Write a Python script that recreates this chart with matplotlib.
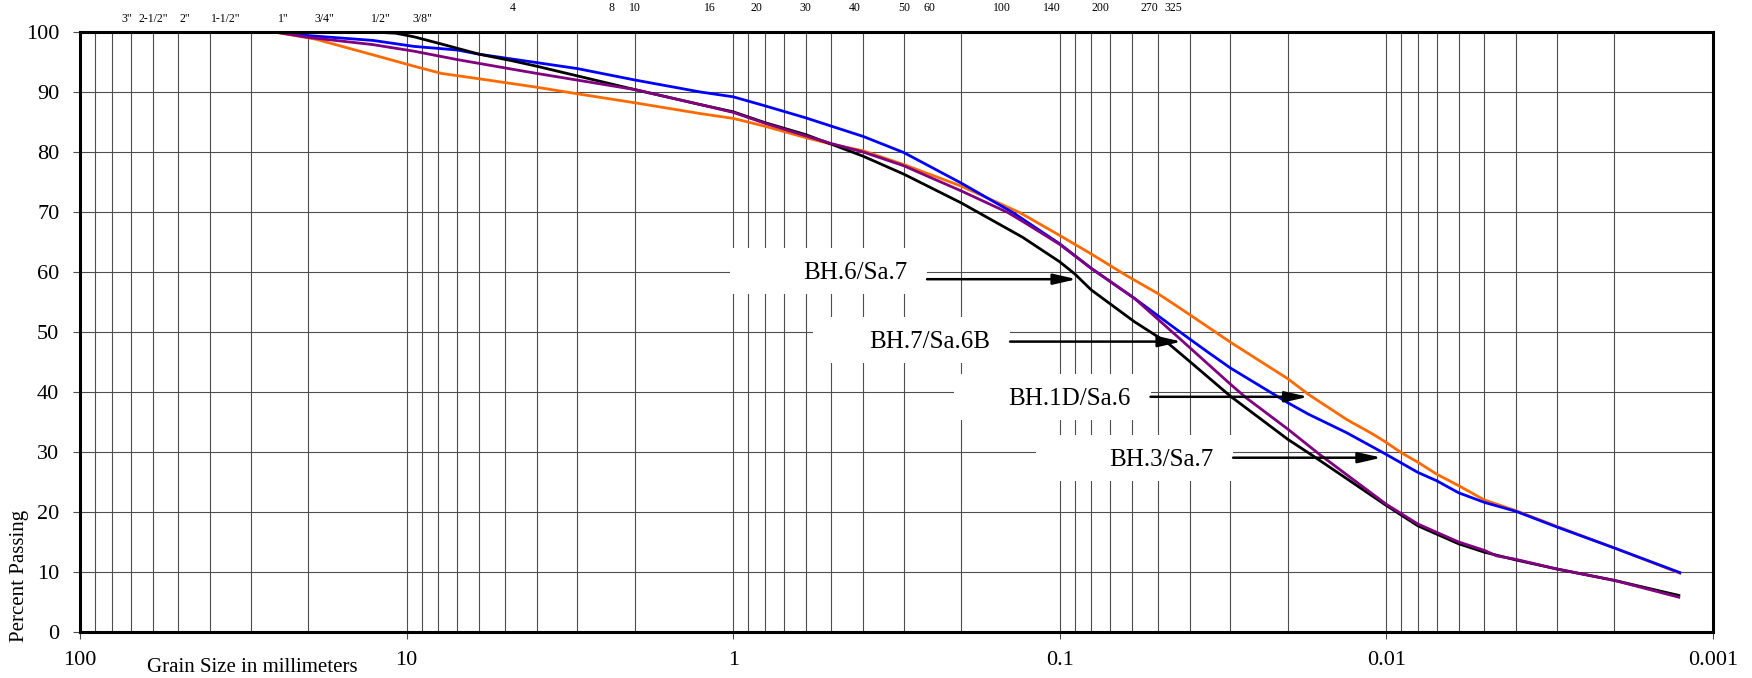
import matplotlib
matplotlib.use('Agg')
import matplotlib.pyplot as plt
import matplotlib.transforms as mtransforms
from matplotlib.patches import Rectangle
from matplotlib.ticker import LogLocator, NullFormatter, FixedLocator, FixedFormatter

plt.rcParams['font.family'] = ['Liberation Serif', 'DejaVu Serif']

# ---------------- data ----------------
# BH.6/Sa.7 (black)
bh6_d = [25.4, 12.7, 10.8, 9.5, 7.83, 6.0, 4.75, 4.0, 2.0, 1.26, 1.0, 0.8, 0.6, 0.5, 0.4, 0.3, 0.2,
         0.13, 0.1, 0.09, 0.08, 0.059, 0.0465, 0.04, 0.03, 0.02, 0.0168, 0.01, 0.008, 0.006,
         0.005, 0.004, 0.003, 0.002, 0.00127]
bh6_p = [100, 100, 99.8, 99.2, 98.0, 96.3, 95.2, 94.3, 90.4, 87.9, 86.7, 84.9, 82.9, 81.3, 79.3, 76.3, 71.5,
         65.8, 61.7, 59.7, 57.0, 51.7, 48.1, 45.1, 39.3, 32.1, 29.4, 21.1, 17.7, 14.7,
         13.3, 12.0, 10.5, 8.6, 6.1]

# BH.7/Sa.6B (purple)
bh7_d = [50.8, 25.4, 20, 12.7, 9.5, 7.0, 4.75, 4.0, 2.0, 1.26, 1.0, 0.8, 0.6, 0.5, 0.4, 0.3, 0.25,
         0.2, 0.144, 0.126, 0.1, 0.08, 0.059, 0.0425, 0.03, 0.0268, 0.02, 0.016, 0.01, 0.008,
         0.006, 0.005, 0.0046, 0.004, 0.003, 0.002, 0.00127]
bh7_p = [100, 100, 99.1, 97.9, 96.8, 95.4, 93.8, 93.1, 90.4, 87.9, 86.6, 84.8, 82.7, 81.4, 80.0, 77.7, 75.8,
         73.5, 69.9, 68.0, 64.6, 60.6, 55.6, 48.7, 41.3, 39.0, 33.8, 29.6, 21.3, 18.0,
         15.0, 13.6, 12.7, 12.1, 10.5, 8.6, 5.8]

# BH.3/Sa.7 (blue)
bh3_d = [25.4, 20, 12.7, 9.5, 7.0, 6.0, 4.0, 3.0, 2.0, 1.26, 1.0, 0.8, 0.6, 0.5, 0.4, 0.3, 0.2, 0.139,
         0.1, 0.08, 0.059, 0.0428, 0.0355, 0.03, 0.02, 0.0173, 0.0132, 0.01, 0.008, 0.007,
         0.006, 0.005, 0.004, 0.003, 0.002, 0.00126]
bh3_p = [100, 99.4, 98.6, 97.6, 97.0, 96.3, 94.9, 93.9, 92.0, 90.0, 89.2, 87.7, 85.7, 84.3, 82.6, 79.9, 74.8, 69.9,
         64.7, 60.6, 55.6, 50.0, 46.8, 44.0, 38.2, 36.3, 33.2, 29.6, 26.6, 25.2,
         23.2, 21.6, 20.1, 17.5, 14.0, 9.9]

# BH.1D/Sa.6 (orange)
bh1_d = [25.4, 19.0, 12.7, 9.5, 7.83, 6.0, 4.0, 3.0, 2.0, 1.26, 1.0, 0.8, 0.6, 0.5, 0.4, 0.3, 0.2, 0.1325,
         0.1, 0.08, 0.0624, 0.05, 0.04, 0.03, 0.02, 0.0173, 0.0132, 0.011, 0.01, 0.009, 0.008,
         0.007, 0.006, 0.005, 0.004, 0.003, 0.002, 0.00126]
bh1_p = [100, 98.8, 96.2, 94.3, 93.1, 92.2, 90.8, 89.7, 88.2, 86.4, 85.6, 84.3, 82.4, 81.3, 80.2, 77.9, 74.3, 69.9,
         66.1, 63.0, 59.4, 56.4, 52.9, 48.3, 42.2, 39.6, 35.4, 33.0, 31.6, 29.9, 28.3,
         26.3, 24.4, 22.0, 20.2, 17.6, 14.0, 9.8]

# sieve labels along the top
inch_labels = ['3"', '2-1/2"', '2"', '1-1/2"', '1"', '3/4"', '1/2"', '3/8"']
inch_sizes = [76.2, 63.5, 50.8, 38.1, 25.4, 19.05, 12.7, 9.525]
mesh_labels = ['4', '8', '10', '16', '20', '30', '40', '50', '60', '100', '140', '200', '270', '325']
mesh_sizes = [4.75, 2.36, 2.0, 1.18, 0.85, 0.6, 0.425, 0.3, 0.25, 0.15, 0.106, 0.075, 0.053, 0.045]

x_ticks = [100, 10, 1, 0.1, 0.01, 0.001]
x_tick_labels = ['100', '10', '1', '0.1', '0.01', '0.001']
y_ticks = [0, 10, 20, 30, 40, 50, 60, 70, 80, 90, 100]

# annotations: label, box right edge (mm), text centre (%), arrow tip (mm), arrow level (%)
ann_labels = ['BH.6/Sa.7', 'BH.7/Sa.6B', 'BH.1D/Sa.6', 'BH.3/Sa.7']
ann_box_x = [0.2549, 0.1419, 0.0527, 0.02944]
ann_text_y = [60.2, 48.67, 39.17, 29.0]
ann_tip_x = [0.0887, 0.0423, 0.01733, 0.01033]
ann_arrow_y = [58.8, 48.4, 39.2, 29.05]

# ---------------- figure ----------------
W, H = 1752, 678
fig = plt.figure(figsize=(W / 100, H / 100), dpi=100)
ax = fig.add_axes([80.2 / W, 46 / H, (1712.7 - 80.2) / W, 600 / H])
ax.set_xscale('log')
ax.set_xlim(100, 0.001)
ax.set_ylim(0, 100)

ax.xaxis.set_major_locator(FixedLocator(x_ticks))
ax.xaxis.set_major_formatter(FixedFormatter(x_tick_labels))
ax.xaxis.set_minor_locator(LogLocator(base=10, subs=[2, 3, 4, 5, 6, 7, 8, 9], numticks=20))
ax.xaxis.set_minor_formatter(NullFormatter())
ax.set_yticks(y_ticks)

gcol = '0.3'
ax.set_axisbelow(True)
ax.grid(True, which='both', axis='x', color=gcol, lw=0.8)
ax.grid(True, which='major', axis='y', color=gcol, lw=0.8)

ax.tick_params(axis='x', which='major', length=5, width=0.8, color=gcol, labelsize=16, pad=9)
ax.tick_params(axis='x', which='minor', length=0)
ax.tick_params(axis='y', which='major', length=5, width=0.8, color=gcol, labelsize=16, pad=10)

for s in ax.spines.values():
    s.set_linewidth(2.2)
    s.set_color('black')
    s.set_zorder(6)

ax.plot(bh1_d, bh1_p, color='#FF6A00', lw=2.0, zorder=4)
ax.plot(bh3_d, bh3_p, color='#0000FF', lw=2.0, zorder=4)
ax.plot(bh6_d, bh6_p, color='black', lw=2.0, zorder=4)
ax.plot(bh7_d, bh7_p, color='#800080', lw=2.0, zorder=4)

# top sieve labels
tr_top = mtransforms.blended_transform_factory(ax.transData, fig.transFigure)
tr_inch = mtransforms.offset_copy(tr_top, fig=fig, x=8.5, y=0, units='dots')
for lab, s in zip(inch_labels, inch_sizes):
    ax.text(s, 1 - 19 / H, lab, transform=tr_inch, ha='center', va='center', fontsize=8.5,
            clip_on=False)
for lab, s in zip(mesh_labels, mesh_sizes):
    ax.text(s, 1 - 8 / H, lab, transform=tr_top, ha='center', va='center', fontsize=8.5,
            clip_on=False)

# annotation boxes and arrows
fig.canvas.draw()
box_w, box_h = 197, 46
for lab, bx, ty, tx, ay in zip(ann_labels, ann_box_x, ann_text_y, ann_tip_x, ann_arrow_y):
    px, py = ax.transData.transform((bx, ty))
    rect = Rectangle((px - box_w, py - box_h / 2), box_w, box_h, transform=None,
                     facecolor='white', edgecolor='none', zorder=2)
    ax.add_artist(rect)
    trt = mtransforms.offset_copy(ax.transData, fig=fig, x=-20, y=0, units='dots')
    ax.text(bx, ty, lab, transform=trt, ha='right', va='center_baseline', fontsize=18, zorder=3)
    ax.annotate('', xy=(tx, ay), xytext=(bx, ay),
                arrowprops=dict(arrowstyle='-|>,head_length=0.7,head_width=0.16', lw=1.8,
                                color='black', shrinkA=0, shrinkB=0, mutation_scale=20),
                zorder=5)

fig.text(20 / W, 1 - 576 / H, 'Percent Passing', rotation=90, ha='center', va='center',
         fontsize=15)
fig.text(252 / W, 1 - 667 / H, 'Grain Size in millimeters', ha='center', va='center',
         fontsize=15)

fig.savefig('out.png', dpi=100, facecolor='white')
